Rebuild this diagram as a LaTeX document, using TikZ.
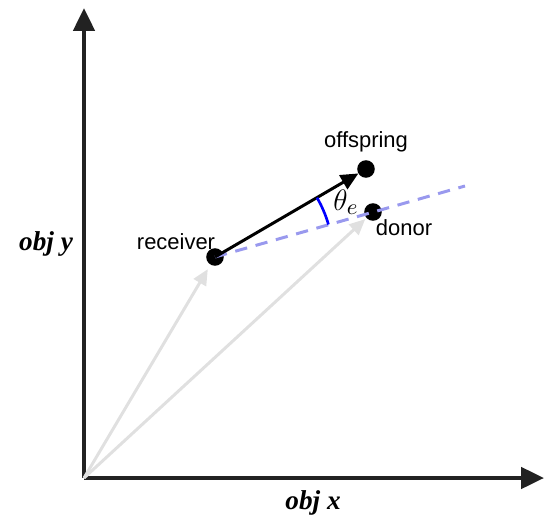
\documentclass[tikz,border=0pt]{standalone}
\usepackage[no-math]{fontspec}
\setmainfont{Liberation Sans}
\newfontfamily\axisfont{Liberation Serif}
\usepackage{tikz}
\usetikzlibrary{arrows.meta,calc}
\definecolor{axisgray}{HTML}{222222}
\definecolor{vecgray}{HTML}{E0E0E0}
\definecolor{dashblue}{HTML}{9999EE}
\definecolor{anglblue}{HTML}{0000FF}

\tikzset{
  axis/.style={line width=2.3pt,axisgray,-{Triangle[length=13pt,width=12pt]}},
  vec/.style={line width=1.7pt,vecgray,-{Triangle[length=9pt,width=8pt]}},
  sol/.style={circle,fill=black,inner sep=0pt,minimum size=10pt},
  lab/.style={font=\fontsize{12.5}{14}\selectfont},
  axlab/.style={font=\axisfont\fontsize{15.5}{18}\selectfont\bfseries\itshape}
}

\begin{document}
\begin{tikzpicture}[x=0.02cm,y=0.02cm]
  \useasboundingbox (0,0) rectangle (544,522);
  % axes
  \coordinate (O) at (84,44);
  \coordinate (ytop) at (84,514);
  \coordinate (xend) at (544,44);
  \draw[axis] (O) -- (ytop);
  \draw[axis] (O) -- (xend);
  \node[axlab] (ylab) at (46,278) {obj y};
  \node[axlab] (xlab) at (313,19) {obj x};
  % solutions
  \node[sol] (rec) at (215,265) {};
  \node[sol] (off) at (366,353) {};
  \node[sol] (don) at (373,310) {};
  \coordinate (dashend) at (465,336);
  % position vectors
  \draw[vec,shorten >=8pt] (O) -- (rec.center);
  \draw[vec,shorten >=6pt] (O) -- (don.center);
  % direction to donor
  \draw[line width=1.7pt,dashblue,dash pattern=on 7pt off 5pt] (rec.center) -- (dashend);
  % offspring step
  \draw[line width=1.7pt,black,-{Triangle[length=10pt,width=9pt]},shorten >=5pt] (rec.center) -- (off.center);
  % angle
  \draw[line width=1.5pt,anglblue] ($(rec.center)+(16:118)$) arc[start angle=16,end angle=30.2,radius=118];
  \node[lab] (thl) at (346,320) {\scalebox{1.4}{$\theta_e$}};
  % labels
  \node[lab] (reclab) at (176,280) {receiver};
  \node[lab] (offlab) at (366,380) {offspring};
  \node[lab] (donlab) at (404,294) {donor};
\end{tikzpicture}
\end{document}
